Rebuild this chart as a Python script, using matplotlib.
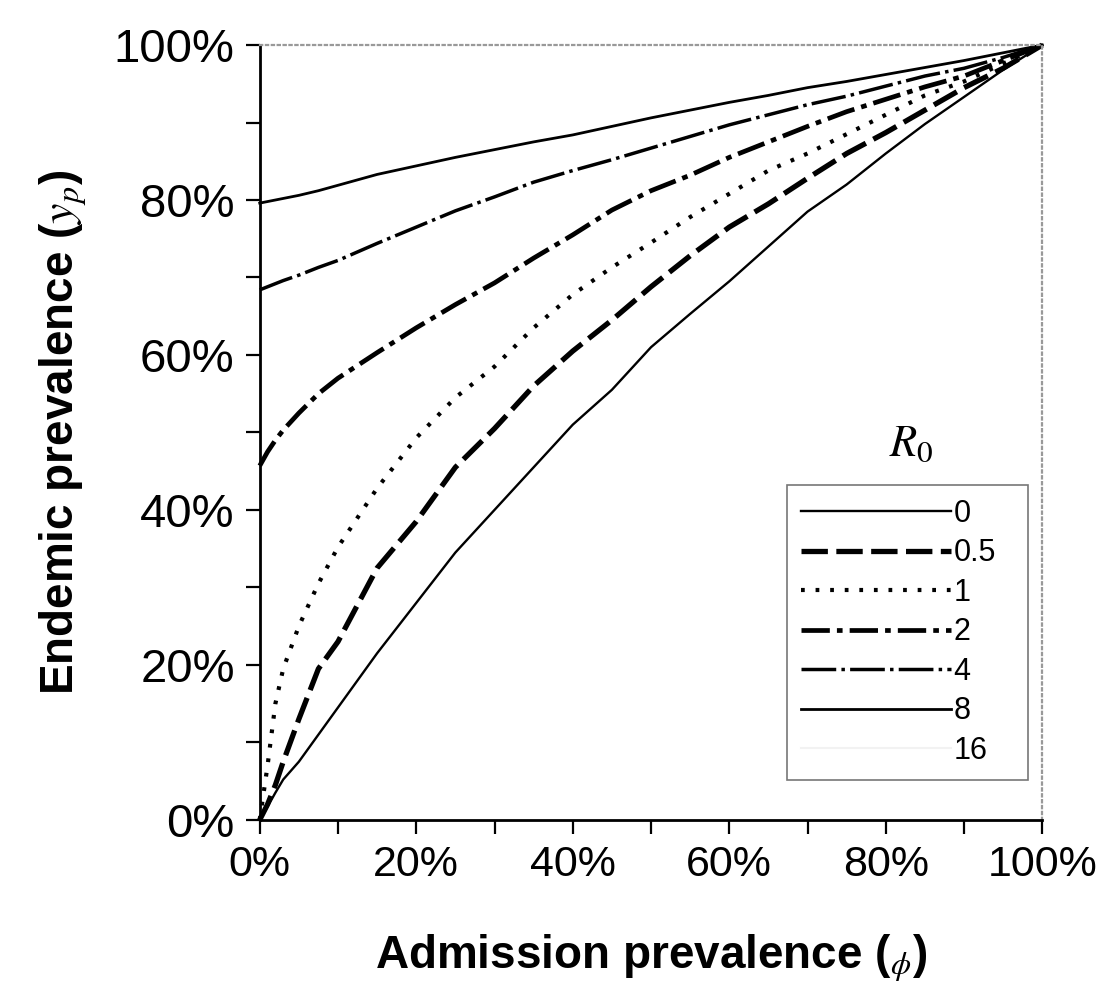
import numpy as np
import matplotlib
matplotlib.use('Agg')
import matplotlib.pyplot as plt
from matplotlib.lines import Line2D

## data (percent)
phi = [0, 1, 2, 3, 5, 7.5, 10, 15, 20, 25, 30, 35, 40, 45, 50,
       55, 60, 65, 70, 75, 80, 85, 90, 95, 100]

r0_labels = ['0', '0.5', '1', '2', '4', '8', '16']

yp_0 = [0, 1.7, 3.5, 5.2, 7.5, 11, 14.5, 21.5, 28, 34.5, 40, 45.5, 51, 55.5, 61,
        65.3, 69.5, 74, 78.5, 82, 86, 89.8, 93.3, 96.8, 100]
yp_05 = [0, 2, 4.5, 7.5, 13, 19.5, 23, 32.5, 38.5, 45.5, 50.5, 56, 60.5, 64.5, 68.8,
         72.8, 76.5, 79.5, 82.8, 86, 88.7, 91.6, 94.5, 97, 100]
yp_1 = [0, 7, 15, 19.5, 25, 30.5, 35.2, 42.8, 49.3, 54.5, 58.5, 63.5, 67.8, 71.3, 74.5,
        77.8, 80.8, 83.8, 86, 88.5, 91, 93.5, 95.3, 97.6, 100]
yp_2 = [45.7, 47.5, 49, 50.3, 52.5, 55, 57, 60.3, 63.5, 66.5, 69.3, 72.5, 75.5, 78.7, 81.2,
        83.2, 85.5, 87.5, 89.5, 91.4, 93, 94.6, 96, 98, 100]
yp_4 = [68.4, 68.8, 69.2, 69.6, 70.3, 71.3, 72.2, 74.4, 76.5, 78.6, 80.4, 82.3, 83.8, 85.2, 86.7,
        88.2, 89.7, 91, 92.3, 93.4, 94.7, 96, 97, 98.4, 100]
yp_8 = [79.6, 79.8, 80, 80.2, 80.6, 81.2, 81.9, 83.3, 84.4, 85.5, 86.5, 87.5, 88.4, 89.5, 90.6,
        91.6, 92.6, 93.5, 94.5, 95.3, 96.2, 97.1, 98, 99, 100]

x_ticks = list(range(0, 101, 10))
tick_labels = ['0%', '', '20%', '', '40%', '', '60%', '', '80%', '', '100%']

plt.rcParams['font.family'] = ['Liberation Sans', 'DejaVu Sans']
plt.rcParams['mathtext.fontset'] = 'stix'

fig = plt.figure(figsize=(11.1, 10.01), dpi=100)
ax = fig.add_axes([0.234, 0.181, 0.705, 0.774])

## curves
ax.plot(phi, yp_0, color='black', lw=1.7, ls='-', label=r0_labels[0], clip_on=False)
ax.plot(phi, yp_05, color='black', lw=3.8, ls=(0, (5, 1.6)), label=r0_labels[1], clip_on=False)
ax.plot(phi, yp_1, color='black', lw=3.0, ls=(0, (0.9, 2.6)), label=r0_labels[2], clip_on=False)
ax.plot(phi, yp_2, color='black', lw=3.4, ls=(0, (6, 1.5, 1.2, 1.5)), label=r0_labels[3], clip_on=False)
ax.plot(phi, yp_4, color='black', lw=2.5, ls=(0, (10, 1.5, 1, 1.5)), label=r0_labels[4], clip_on=False)
ax.plot(phi, yp_8, color='black', lw=2.0, ls='-', label=r0_labels[5], clip_on=False)
h16 = Line2D([], [], color='#f2f2f2', lw=1.5, label=r0_labels[6])

ax.set_xlim(0, 100)
ax.set_ylim(0, 100)
ax.set_xticks(x_ticks)
ax.set_yticks(x_ticks)
ax.set_xticklabels(tick_labels, fontsize=31)
ax.set_yticklabels(tick_labels, fontsize=34)
ax.tick_params(direction='out', length=10, width=1.6, pad=8)

for s in ['left', 'bottom']:
    ax.spines[s].set_linewidth(2.0)
for s in ['top', 'right']:
    ax.spines[s].set_color('#999999')
    ax.spines[s].set_linestyle(':')
    ax.spines[s].set_linewidth(1.6)

ax.set_xlabel(r'Admission prevalence ($_{\phi}$)', fontsize=33, fontweight='bold', labelpad=34)
ax.set_ylabel(r'Endemic prevalence ($y_p$)', fontsize=33, fontweight='bold', labelpad=18)

## legend
handles, labels = ax.get_legend_handles_labels()
handles.append(h16)
labels.append(r0_labels[6])
leg = ax.legend(handles, labels, loc='lower left',
                bbox_to_anchor=(0.674, 0.052, 0.308, 0.383), mode='expand',
                borderaxespad=0, fontsize=22, handlelength=4.9, handletextpad=0.1,
                labelspacing=0.31, borderpad=0.45, fancybox=False, framealpha=1)
leg.get_frame().set_edgecolor('#777777')
leg.get_frame().set_linewidth(1.2)
ax.text(0.833, 0.458, r'$R_0$', transform=ax.transAxes, fontsize=32,
        ha='center', va='bottom')

fig.savefig('out.png', dpi=100)
